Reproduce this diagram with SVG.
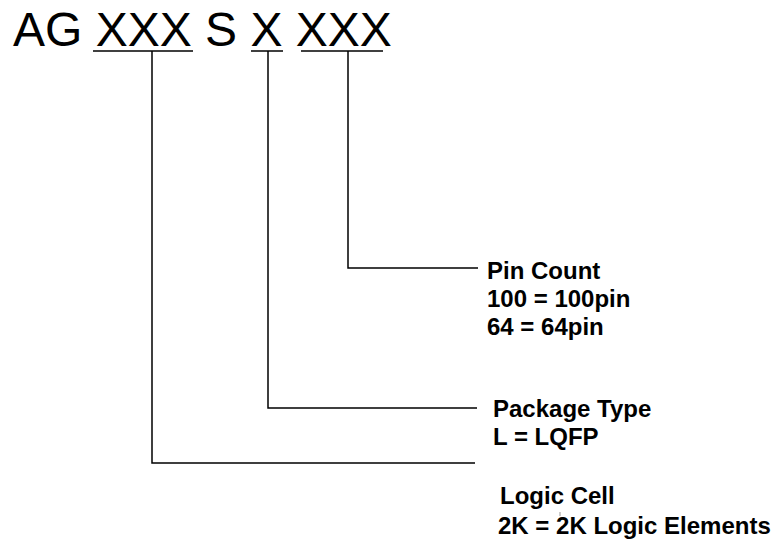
<svg xmlns="http://www.w3.org/2000/svg" width="776" height="552" viewBox="0 0 776 552">
<style>
.t{font-family:"Liberation Sans",Arial,sans-serif;fill:#000}
.title{font-size:48px}
.lbl{font-size:24px;font-weight:bold}
.ln{stroke:#000;stroke-width:1.5;fill:none}
</style>
<rect width="776" height="552" fill="#fff"/>
<g id="title">
<text class="t title" x="13" y="46">AG XXX S X XXX</text>
</g>
<g id="connectors">
<line class="ln" x1="93" y1="51" x2="193" y2="51"/>
<line class="ln" x1="251" y1="51" x2="283" y2="51"/>
<line class="ln" x1="301" y1="51" x2="383" y2="51"/>
<polyline class="ln" points="152,51 152,463 475,463"/>
<polyline class="ln" points="268,51 268,408 477,408"/>
<polyline class="ln" points="348,51 348,268 478,268"/>
<line x1="560" y1="512" x2="560" y2="516" stroke="#999" stroke-width="1"/>
</g>
<g id="pin-count">
<text class="t lbl" x="487" y="279">Pin Count</text>
<text class="t lbl" x="487" y="307">100 = 100pin</text>
<text class="t lbl" x="487" y="335">64 = 64pin</text>
</g>
<g id="package-type">
<text class="t lbl" x="493" y="417">Package Type</text>
<text class="t lbl" x="493" y="445">L = LQFP</text>
</g>
<g id="logic-cell">
<text class="t lbl" x="500" y="504">Logic Cell</text>
<text class="t lbl" x="498" y="534">2K = 2K Logic Elements</text>
</g>
</svg>
